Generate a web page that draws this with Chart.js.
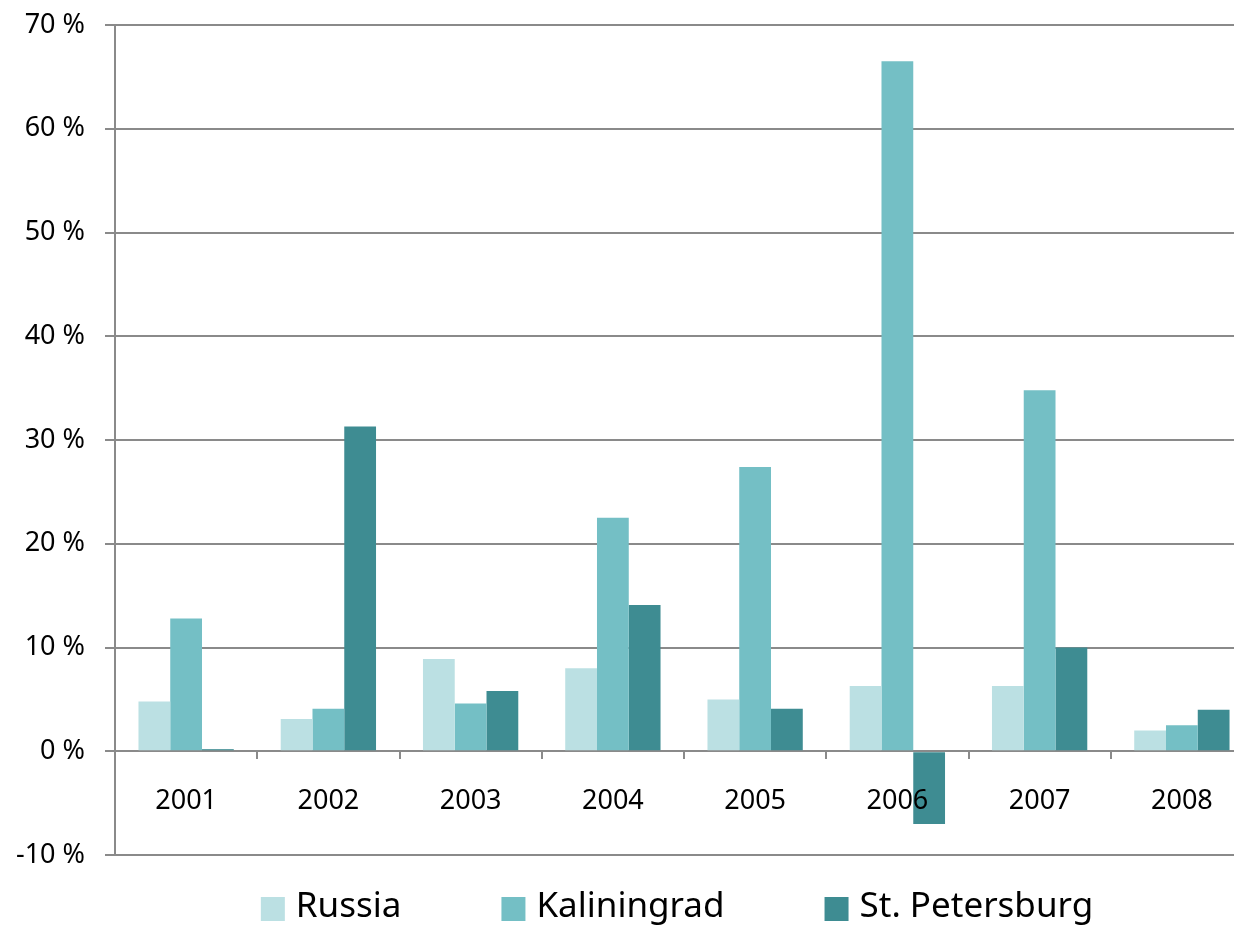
<!DOCTYPE html>
<html lang="en">

<head>
    <meta charset="UTF-8">
    <title>Russia / Kaliningrad / St. Petersburg</title>
    <script src="https://cdn.jsdelivr.net/npm/chart.js"></script>
    <style>
        html, body { margin: 0; padding: 0; background: #fff; overflow: hidden; }
        #caixa { width: 1254px; height: 930px; }
    </style>
</head>

<body>
    <div id="caixa">
        <canvas id="grafico"></canvas>
    </div>
</body>

</html>

<script>
    var anos = ['2001', '2002', '2003', '2004', '2005', '2006', '2007', '2008']
    var russia = [4.8, 3.1, 8.9, 8.0, 5.0, 6.3, 6.3, 2.0]
    var kaliningrad = [12.8, 4.1, 4.6, 22.5, 27.4, 66.5, 34.8, 2.5]
    var petersburg = [0.2, 31.3, 5.8, 14.1, 4.1, -7.0, 10.0, 4.0]
    var nomes = ['Russia', 'Kaliningrad', 'St. Petersburg']
    var cores = ['#bbe0e3', '#74bfc5', '#3e8c92']

    var fonte = "'Noto Sans', sans-serif"
    var cinza = '#8a8a8a'

    // legenda desenhada à mão, espaçamento largo como no original
    const legenda = {
        id: 'legenda',
        afterDraw(chart) {
            var ctx = chart.ctx
            ctx.save()
            ctx.font = '35px ' + fonte
            ctx.textBaseline = 'middle'
            var caixa = 24, gap = 11, entre = 100
            var larguras = nomes.map(n => ctx.measureText(n).width)
            var total = 0
            larguras.forEach((w, i) => {
                total += caixa + gap + w
                if (i < nomes.length - 1) total += entre
            })
            var x = 677 - total / 2
            var y = 909
            nomes.forEach((n, i) => {
                ctx.fillStyle = cores[i]
                ctx.fillRect(x, y - caixa / 2, caixa, caixa)
                ctx.fillStyle = '#000'
                ctx.fillText(n, x + caixa + gap, y - 2)
                x += caixa + gap + larguras[i] + entre
            })
            ctx.restore()
        }
    }

    const data = {
        labels: anos,
        datasets: [
            { label: nomes[0], data: russia, backgroundColor: cores[0] },
            { label: nomes[1], data: kaliningrad, backgroundColor: cores[1] },
            { label: nomes[2], data: petersburg, backgroundColor: cores[2] }
        ]
    }

    const config = {
        type: 'bar',
        data: data,
        options: {
            responsive: true,
            maintainAspectRatio: false,
            animation: false,
            datasets: { bar: { barPercentage: 1, categoryPercentage: 0.67 } },
            layout: { padding: { top: 25, bottom: 75, right: 1, left: 0 } },
            plugins: {
                legend: { display: false },
                tooltip: { enabled: false }
            },
            scales: {
                x: {
                    position: { y: 0 },
                    grid: { drawOnChartArea: false, tickLength: 8, offset: true, color: cinza, lineWidth: 2 },
                    border: { display: false },
                    ticks: { z: 1, color: '#000', font: { family: fonte, size: 27 }, padding: 26, maxRotation: 0 }
                },
                y: {
                    min: -10,
                    max: 70,
                    ticks: {
                        stepSize: 10,
                        color: '#000',
                        padding: 20,
                        font: { family: fonte, size: 27 },
                        callback: function (v) { return v + ' %' }
                    },
                    grid: { color: cinza, lineWidth: 2, tickLength: 10 },
                    border: { color: cinza, width: 2 },
                    afterFit: function (scale) {
                        scale.width = 115
                        scale.paddingTop = 0
                        scale.paddingBottom = 0
                    }
                }
            }
        },
        plugins: [legenda]
    }

    const myChart = new Chart(document.getElementById('grafico'), config)
</script>
